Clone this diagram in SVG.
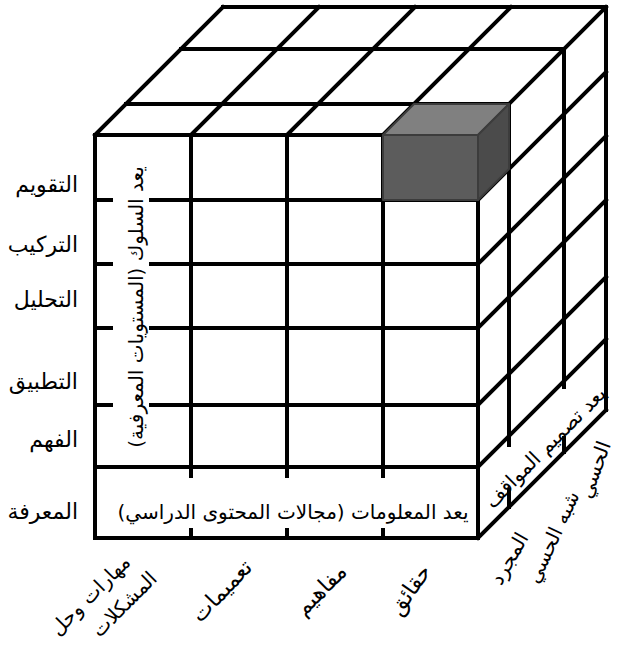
<svg xmlns="http://www.w3.org/2000/svg" width="617" height="645" viewBox="0 0 617 645">
<style>
.g{stroke:#000;stroke-width:4;fill:none;stroke-linecap:square}
.t{font-family:"DejaVu Sans","Liberation Serif",sans-serif;font-size:20px;fill:#000}
.b{font-size:22px}
.r{direction:rtl;unicode-bidi:embed}
.cube{stroke:#3c3c3c;stroke-width:2;stroke-linejoin:round}
</style>
<rect width="617" height="645" fill="#fff"/>
<g id="connectors">
<g id="top-face" class="g">
<line x1="223" y1="7" x2="606" y2="7"/>
<line x1="181" y1="49" x2="564" y2="49"/>
<line x1="126" y1="104" x2="509" y2="104"/>
<line x1="95" y1="135" x2="223" y2="7"/>
<line x1="191" y1="135" x2="319" y2="7"/>
<line x1="287" y1="135" x2="415" y2="7"/>
<line x1="383" y1="135" x2="511" y2="7"/>
<line x1="478" y1="135" x2="606" y2="7"/>
</g>
<g id="right-face" class="g">
<line x1="606" y1="7" x2="606" y2="410"/>
<line x1="564" y1="49" x2="564" y2="387"/>
<line x1="564" y1="438" x2="564" y2="452"/>
<line x1="509" y1="104" x2="509" y2="445"/>
<line x1="509" y1="490" x2="509" y2="507"/>
<line x1="478" y1="200" x2="606" y2="72"/>
<line x1="478" y1="264" x2="606" y2="136"/>
<line x1="478" y1="328" x2="606" y2="200"/>
<line x1="478" y1="405" x2="606" y2="277"/>
<line x1="478" y1="467" x2="606" y2="339"/>
<line x1="478" y1="538" x2="606" y2="410"/>
</g>
<g id="front-face" class="g">
<line x1="95" y1="135" x2="478" y2="135"/>
<line x1="95" y1="135" x2="95" y2="538"/>
<line x1="478" y1="135" x2="478" y2="538"/>
<line x1="95" y1="538" x2="478" y2="538"/>
<line x1="95" y1="467" x2="478" y2="467"/>
<line x1="191" y1="135" x2="191" y2="476"/>
<line x1="287" y1="135" x2="287" y2="476"/>
<line x1="383" y1="135" x2="383" y2="476"/>
<line x1="191" y1="530" x2="191" y2="538"/>
<line x1="287" y1="530" x2="287" y2="538"/>
<line x1="383" y1="530" x2="383" y2="538"/>
<line x1="95" y1="200" x2="111" y2="200"/><line x1="151" y1="200" x2="478" y2="200"/>
<line x1="95" y1="264" x2="111" y2="264"/><line x1="151" y1="264" x2="478" y2="264"/>
<line x1="95" y1="328" x2="111" y2="328"/><line x1="151" y1="328" x2="478" y2="328"/>
<line x1="95" y1="405" x2="111" y2="405"/><line x1="151" y1="405" x2="478" y2="405"/>
</g>
</g>
<g id="highlight-cube" class="cube">
<polygon points="383,135 414,104 509,104 478,135" fill="#808080"/>
<polygon points="478,135 509,104 509,169 478,200" fill="#4b4b4b"/>
<rect x="383" y="135" width="95" height="65" fill="#5c5c5c"/>
</g>
<g id="behavior-levels" class="t b">
<text x="78" y="192" text-anchor="end">التقويم</text>
<text x="78" y="252" text-anchor="end">التركيب</text>
<text x="78" y="307" text-anchor="end">التحليل</text>
<text x="78" y="389" text-anchor="end">التطبيق</text>
<text x="78" y="447" text-anchor="end">الفهم</text>
<text x="78" y="519" text-anchor="end">المعرفة</text>
</g>
<g id="behavior-axis">
<text class="t r" transform="translate(143,307) rotate(-90)" text-anchor="middle">يعد السلوك (المستويات المعرفية)</text>
</g>
<g id="content-axis">
<text class="t r" x="293" y="519" text-anchor="middle">يعد المعلومات (مجالات المحتوى الدراسي)</text>
</g>
<g id="content-domains" class="t b">
<text transform="translate(416,594) rotate(-55)" text-anchor="middle">حقائق</text>
<text transform="translate(326,595) rotate(-45)" text-anchor="middle">مفاهيم</text>
<text transform="translate(227,596) rotate(-46)" text-anchor="middle">تعميمات</text>
</g>
<g id="content-domain-skills" class="t">
<text transform="translate(95,600) rotate(-45)" text-anchor="middle">مهارات وحل</text>
<text transform="translate(129,609) rotate(-45)" text-anchor="middle">المشكلات</text>
</g>
<g id="situation-axis">
<text class="t" transform="translate(550,452) rotate(-45)" text-anchor="middle">يعد تصميم المواقف</text>
</g>
<g id="situation-types" class="t">
<text transform="translate(515,562) rotate(-60)" text-anchor="middle">المجرد</text>
<text transform="translate(559,540) rotate(-65)" text-anchor="middle">شبه الحسي</text>
<text transform="translate(601,472) rotate(-70)" text-anchor="middle">الحسي</text>
</g>
</svg>
